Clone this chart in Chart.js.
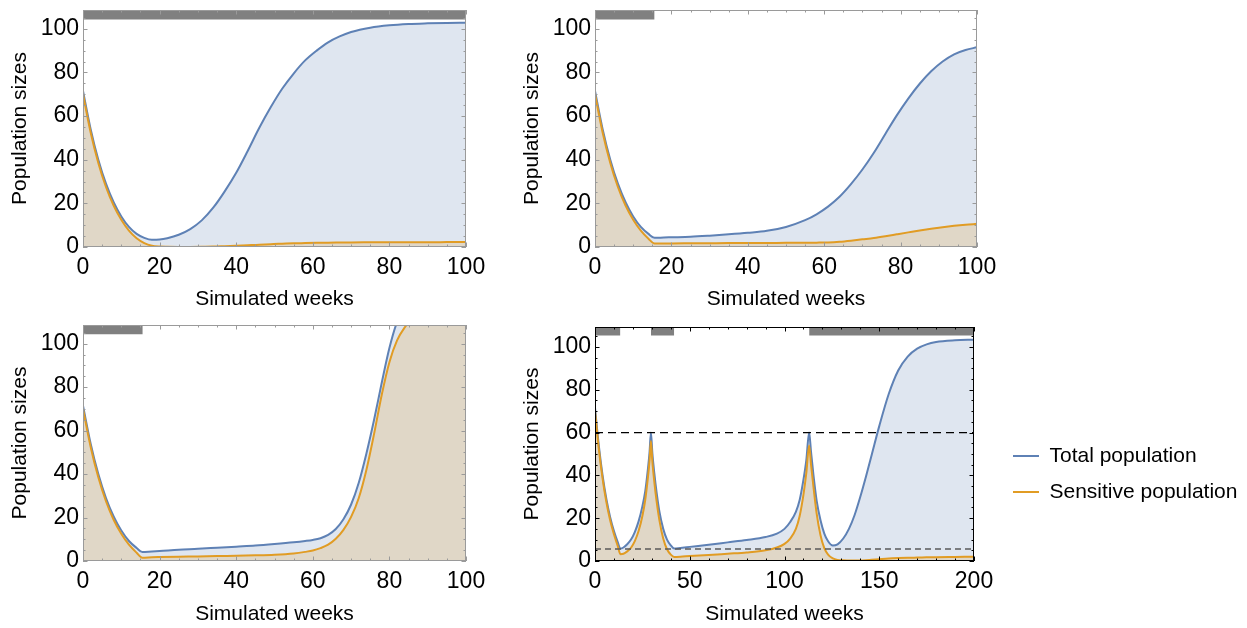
<!DOCTYPE html>
<html><head><meta charset="utf-8">
<script src="https://cdn.jsdelivr.net/npm/chart.js@4.4.1/dist/chart.umd.min.js"></script>
<style>
html,body{margin:0;padding:0;background:#fff;width:1247px;height:628px;overflow:hidden;}
canvas{position:absolute;}
</style></head><body>
<canvas id="c1" width="520" height="315" style="left:0;top:0;width:520px;height:315px"></canvas>
<canvas id="c2" width="520" height="315" style="left:512px;top:0;width:520px;height:315px"></canvas>
<canvas id="c3" width="520" height="314" style="left:0;top:314px;width:520px;height:314px"></canvas>
<canvas id="c4" width="520" height="314" style="left:512px;top:314px;width:520px;height:314px"></canvas>
<canvas id="c5" width="249" height="90" style="left:998px;top:429px;width:249px;height:90px"></canvas>
<script>
// ---------- data ----------
const seriesNames = ['Total population', 'Sensitive population'];
const xTitle = 'Simulated weeks';
const yTitle = 'Population sizes';

const weeks1 = [0,2,4,6,8,10,12,14,16,18,20,22,25,28,31,34,37,40,43,46,49,52,55,58,61,64,67,70,75,80,85,90,95,100];
const total1 = [71.5,54,40,29,20.5,14,9.2,6,4.2,3.3,3.4,4.0,5.6,8.2,12.2,18,25.5,34,44,54.5,64,72.5,79.5,85.5,90,93.8,96.5,98.5,100.5,101.6,102.2,102.5,102.7,102.8];
const sensitive1 = [70,52.5,38.5,27.5,19,12.5,7.5,4,1.8,0.6,0.2,0.1,0.05,0.05,0.1,0.2,0.4,0.6,0.8,1.0,1.3,1.5,1.7,1.8,1.9,2.0,2.05,2.1,2.15,2.2,2.2,2.2,2.25,2.3];
const treatStart1 = [0];
const treatEnd1 = [100];

const weeks2 = [0,2,4,6,8,10,12,14,15.6,18,20,25,30,35,40,45,50,55,58,61,64,67,70,73,76,79,82,85,88,91,94,97,100];
const total2 = [71.5,54,40,29,20.5,14,9.2,6,4.2,4.35,4.45,4.7,5.2,5.8,6.5,7.4,9.2,12.3,15,18.5,23,28.8,35.5,43.2,51.8,60.3,68,74.8,80.5,85,88.3,90.3,91.5];
const sensitive2 = [70,52.5,38.5,27.5,19,12.5,7.5,3.8,1.6,1.6,1.65,1.7,1.75,1.8,1.8,1.85,1.9,1.95,2.0,2.1,2.4,2.9,3.5,4.1,4.9,5.8,6.7,7.6,8.4,9.1,9.7,10.2,10.6];
const treatStart2 = [0];
const treatEnd2 = [15.6];

const weeks3 = [0,2,4,6,8,10,12,14,15.5,18,20,25,30,35,40,45,50,55,58,60,62,64,66,68,70,72,74,76,78,80,82,84,86,88,90,95,100];
const total3 = [71.5,54,40,29,20.5,14,9.2,6,4.1,4.4,4.6,5.2,5.6,6.1,6.6,7.1,7.8,8.6,9.2,9.7,10.5,12.0,14.7,19.2,26,36,49.5,65,82,98,110,117,121,124,126,129,131];
const sensitive3 = [70,52.5,38.5,27.5,19,12.5,7.5,3.8,1.5,1.7,1.8,2.0,2.1,2.3,2.4,2.6,2.9,3.5,4.2,4.8,5.9,7.5,10.2,14.3,20.3,29,42,58.5,76.5,91.5,101.5,107.5,111.5,115,118,123,126];
const treatStart3 = [0];
const treatEnd3 = [15.6];

const weeks4 = [0,2,4,6,8,10,12,13.4,15,17,19,21,23,25,26.5,27.8,28.8,29.5,30.3,31.3,32.5,34,36,38,40,41.8,45,50,60,70,80,90,96,100,103,106,108,110,111.5,113,114,115.3,117,119,121,123,125.5,128,131,134,137,140,143,146,150,155,160,165,170,175,180,190,200];
const total4 = [71.5,54,40,29,20.5,14,8.8,5.8,6.3,7.8,10,13.5,18.5,25.5,32.5,42,51,60,50,41,32,23,15,10,7.3,5.8,6.1,6.6,7.6,8.7,9.8,11.2,12.8,15,18.2,23,28.5,38,47,60,51,40,28,19,12.8,9.2,7.2,7.8,10.5,15,21.5,30,39.5,49.5,63,78,89,95.5,99.2,101.2,102.3,103.1,103.4];
const sensitive4 = [70,52.5,38.5,27.5,19,12.5,7,3.2,3.4,4.5,6.2,9.3,14,21,28.5,38,47,56,46,37,28,19,10.5,5.5,3,1.9,2.0,2.3,2.8,3.4,4.0,5.0,6.3,8,10.5,15,21,31,41,54,45,34.5,22,12,6,3,1.2,0.5,0.3,0.2,0.2,0.25,0.4,0.6,0.85,1.15,1.35,1.5,1.6,1.7,1.8,1.9,2.0];
const treatStart4 = [0, 29.5, 113];
const treatEnd4 = [13.4, 41.8, 200];
const thresholds4 = [60, 5.6];

// ---------- styling ----------
const FONT = "'Liberation Sans', Arial, Helvetica, sans-serif";
const BLUE = '#5E81B5', ORANGE = '#E19C24';
const BLUE_FILL = 'rgba(94,129,181,0.2)', ORANGE_FILL = 'rgba(225,156,36,0.2)';

const frameTicks = {
  id: 'frameTicks',
  afterDatasetsDraw(chart, args, o) {
    const {ctx, chartArea: a, scales: {x, y}} = chart;
    ctx.save();
    ctx.strokeStyle = o.color;
    ctx.lineWidth = 1;
    const seg = (x1, y1, x2, y2) => { ctx.beginPath(); ctx.moveTo(x1, y1); ctx.lineTo(x2, y2); ctx.stroke(); };
    const isMajor = (v, m) => Math.abs(v / m - Math.round(v / m)) < 1e-6;
    for (let v = x.min; v <= x.max + 1e-9; v += o.xMinor) {
      const p = Math.round(x.getPixelForValue(v)) + 0.5;
      const len = isMajor(v, o.xMajor) ? 4.5 : 2.5;
      seg(p, a.bottom, p, a.bottom - len);
      seg(p, a.top, p, a.top + len);
    }
    for (let v = 0; v <= y.max + 1e-9; v += o.yMinor) {
      const p = Math.round(y.getPixelForValue(v)) + 0.5;
      const len = isMajor(v, o.yMajor) ? 4.5 : 2.5;
      seg(a.left, p, a.left + len, p);
      seg(a.right, p, a.right - len, p);
    }
    ctx.strokeRect(a.left + 0.5, a.top + 0.5, a.right - a.left - 1, a.bottom - a.top - 1);
    ctx.restore();
  }
};

function pts(xs, ys) { return xs.map((v, i) => ({x: v, y: ys[i]})); }

function makePanel(id, cfg) {
  const datasets = [
    {label: seriesNames[0], data: pts(cfg.weeks, cfg.total), borderColor: BLUE, backgroundColor: BLUE_FILL,
     fill: 'origin', borderWidth: 2, pointRadius: 0, cubicInterpolationMode: 'monotone', order: 2},
    {label: seriesNames[1], data: pts(cfg.weeks, cfg.sens), borderColor: ORANGE, backgroundColor: ORANGE_FILL,
     fill: 'origin', borderWidth: 2, pointRadius: 0, cubicInterpolationMode: 'monotone', order: 1}
  ];
  cfg.tStart.forEach((s, i) => {
    datasets.push({label: 'treatment', data: [{x: s, y: cfg.ymax}, {x: cfg.tEnd[i], y: cfg.ymax}],
      borderWidth: 0, borderColor: 'rgba(0,0,0,0)', backgroundColor: '#808080',
      fill: {value: cfg.barBottom}, pointRadius: 0, order: 3});
  });
  (cfg.thresholds || []).forEach((v, i) => {
    datasets.push({label: 'threshold', data: [{x: 0, y: v}, {x: cfg.xmax, y: v}],
      borderColor: i === 0 ? '#000000' : '#5a5a5a', borderWidth: i === 0 ? 1.2 : 1.6,
      borderDash: i === 0 ? [8, 5] : [6, 4], fill: false, pointRadius: 0, order: 0});
  });
  return new Chart(document.getElementById(id), {
    type: 'line',
    data: {datasets},
    plugins: [frameTicks],
    options: {
      responsive: false, animation: false, events: [],
      layout: {padding: cfg.padding},
      plugins: {
        legend: {display: false}, tooltip: {enabled: false},
        frameTicks: {color: cfg.frameColor, xMinor: cfg.xMinor, xMajor: cfg.xStep, yMinor: 5, yMajor: 20}
      },
      scales: {
        x: {type: 'linear', min: 0, max: cfg.xmax, position: 'bottom',
          grid: {display: false, drawTicks: false}, border: {display: false},
          ticks: {stepSize: cfg.xStep, includeBounds: false, autoSkip: false, maxRotation: 0, padding: 7,
                  color: '#000', font: {family: FONT, size: 23}},
          title: {display: true, text: xTitle, color: '#000', font: {family: FONT, size: 21},
                  padding: {top: 0, bottom: cfg.titlePadBottom}},
          afterFit(s) { s.height = cfg.xH; s.paddingLeft = 0; s.paddingRight = 0; }
        },
        y: {type: 'linear', min: 0, max: cfg.ymax,
          grid: {display: false, drawTicks: false}, border: {display: false},
          ticks: {stepSize: 20, includeBounds: false, autoSkip: false, padding: 4,
                  color: '#000', font: {family: FONT, size: 23}},
          title: {display: true, text: yTitle, color: '#000', font: {family: FONT, size: 21},
                  padding: {top: 7.5, bottom: 0}},
          afterFit(s) { s.width = 83; s.paddingTop = 0; s.paddingBottom = 0; }
        }
      }
    }
  });
}

makePanel('c1', {weeks: weeks1, total: total1, sens: sensitive1, tStart: treatStart1, tEnd: treatEnd1,
  xmax: 100, xStep: 20, xMinor: 5, ymax: 108.6, barBottom: 104.3, frameColor: '#9a9a9a',
  padding: {left: 0, top: 10, right: 54, bottom: 0}, xH: 68, titlePadBottom: 3});
makePanel('c2', {weeks: weeks2, total: total2, sens: sensitive2, tStart: treatStart2, tEnd: treatEnd2,
  xmax: 100, xStep: 20, xMinor: 5, ymax: 108.6, barBottom: 104.3, frameColor: '#9a9a9a',
  padding: {left: 0, top: 10, right: 55, bottom: 0}, xH: 68, titlePadBottom: 3});
makePanel('c3', {weeks: weeks3, total: total3, sens: sensitive3, tStart: treatStart3, tEnd: treatEnd3,
  xmax: 100, xStep: 20, xMinor: 5, ymax: 108.6, barBottom: 104.3, frameColor: '#9a9a9a',
  padding: {left: 0, top: 11, right: 54, bottom: 0}, xH: 67, titlePadBottom: 1.5});
makePanel('c4', {weeks: weeks4, total: total4, sens: sensitive4, tStart: treatStart4, tEnd: treatEnd4,
  thresholds: thresholds4,
  xmax: 200, xStep: 50, xMinor: 10, ymax: 109.3, barBottom: 105.3, frameColor: '#000000',
  padding: {left: 0, top: 13, right: 58, bottom: 0}, xH: 67, titlePadBottom: 1.5});

// legend
new Chart(document.getElementById('c5'), {
  type: 'line',
  data: {datasets: [
    {label: seriesNames[0], data: [], borderColor: BLUE, backgroundColor: BLUE, borderWidth: 0},
    {label: seriesNames[1], data: [], borderColor: ORANGE, backgroundColor: ORANGE, borderWidth: 0}
  ]},
  options: {
    responsive: false, animation: false, events: [],
    layout: {padding: 0},
    scales: {x: {display: false}, y: {display: false}},
    plugins: {
      tooltip: {enabled: false},
      legend: {display: true, position: 'left', align: 'center', maxWidth: 249,
        labels: {boxWidth: 26, boxHeight: 2, padding: 15, color: '#000', font: {family: FONT, size: 21}}}
    }
  }
});
</script>
</body></html>
